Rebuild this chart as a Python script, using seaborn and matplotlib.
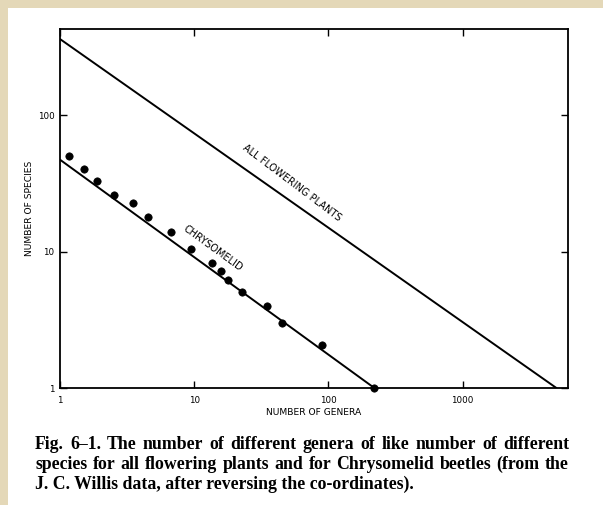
import numpy as np
import pandas as pd
import matplotlib
matplotlib.use("Agg")
import matplotlib.pyplot as plt
import seaborn as sns

# ── data ─────────────────────────────────────────────────
chryso_genera = [1.16, 1.50, 1.88, 2.54, 3.47, 4.56, 6.7, 9.5, 13.6, 15.8, 17.8, 22.8, 34.9, 45.1, 89.8, 219]
chryso_species = [50.5, 40.4, 33.1, 26.1, 22.8, 18.1, 13.9, 10.4, 8.2, 7.2, 6.2, 5.1, 4.0, 3.0, 2.07, 1.0]

# fitted lines (end points)
plants_fit_genera = [1.0, 5000]
plants_fit_species = [363, 1.0]
chryso_fit_genera = [1.0, 220]
chryso_fit_species = [47.3, 1.0]

x_ticks = [1, 10, 100, 1000]
x_tick_labels = ["1", "10", "100", "1000"]
y_ticks = [1, 10, 100]
y_tick_labels = ["1", "10", "100"]

caption_lines = [
    "Fig. 6\u20131. The number of different genera of like number of different",
    "species for all flowering plants and for Chrysomelid beetles (from the",
    "J. C. Willis data, after reversing the co-ordinates).",
]

pts = pd.DataFrame({"genera": chryso_genera, "species": chryso_species})
plants = pd.DataFrame({"genera": plants_fit_genera, "species": plants_fit_species})
chryso = pd.DataFrame({"genera": chryso_fit_genera, "species": chryso_fit_species})

# ── figure ───────────────────────────────────────────────
sns.set_style("ticks")
plt.rcParams["font.family"] = ["DejaVu Sans"]
plt.rcParams["text.color"] = "black"

W, H = 603, 505
fig = plt.figure(figsize=(6.03, 5.05), dpi=100)
fig.patch.set_facecolor("#e4d8b8")
# white page
fig.patches.append(plt.Rectangle((8 / W, 0), 1, 1 - 8 / H, transform=fig.transFigure,
                                 facecolor="white", edgecolor="none", zorder=-10))

ax = fig.add_axes([60 / W, 1 - 388 / H, 508 / W, 359 / H])
ax.set_zorder(5)
ax.set_facecolor("white")

sns.lineplot(data=plants, x="genera", y="species", color="black", lw=1.4, ax=ax)
sns.lineplot(data=chryso, x="genera", y="species", color="black", lw=1.4, ax=ax)
sns.scatterplot(data=pts, x="genera", y="species", color="black", s=28,
                edgecolor="black", linewidth=0.5, ax=ax, zorder=5, clip_on=False)

ax.set_xscale("log")
ax.set_yscale("log")
ax.set_xlim(1.0, 6100)
ax.set_ylim(1.0, 430)

ax.set_xticks(x_ticks)
ax.set_xticklabels(x_tick_labels)
ax.set_yticks(y_ticks)
ax.set_yticklabels(y_tick_labels)
ax.minorticks_off()
ax.tick_params(which="both", direction="in", top=True, right=True, length=5,
               width=1.0, labelsize=6.3, color="black", labelcolor="black")
ax.tick_params(axis="x", pad=6)
ax.tick_params(axis="y", pad=4)

for sp in ax.spines.values():
    sp.set_linewidth(1.3)
    sp.set_color("black")

ax.set_xlabel("NUMBER OF GENERA", fontsize=6.6, labelpad=2, color="black")
ax.set_ylabel("NUMBER OF SPECIES", fontsize=6.6, labelpad=3, color="black")

ax.text(53, 32, "ALL FLOWERING PLANTS", fontsize=7, rotation=-37,
        ha="center", va="center")
ax.text(13.8, 10.6, "CHRYSOMELID", fontsize=7, rotation=-36,
        ha="center", va="center")

# ── caption (first two lines justified like the printed page) ─
renderer = fig.canvas.get_renderer()
x0, x1 = 35, 569
cap_kw = dict(family="Liberation Serif", fontweight="bold", fontsize=12.8,
              va="baseline", color="black")
for i, line in enumerate(caption_lines):
    y = 1 - (449 + 20 * i) / H
    if i == len(caption_lines) - 1:
        fig.text(x0 / W, y, line, ha="left", **cap_kw)
        continue
    words = line.split(" ")
    arts = [fig.text(0, y, w, ha="left", **cap_kw) for w in words]
    widths = [a.get_window_extent(renderer).width for a in arts]
    gap = (x1 - x0 - sum(widths)) / (len(words) - 1)
    x = x0
    for a, w in zip(arts, widths):
        a.set_x(x / W)
        x += w + gap

fig.savefig("out.png", dpi=100, facecolor=fig.get_facecolor())
